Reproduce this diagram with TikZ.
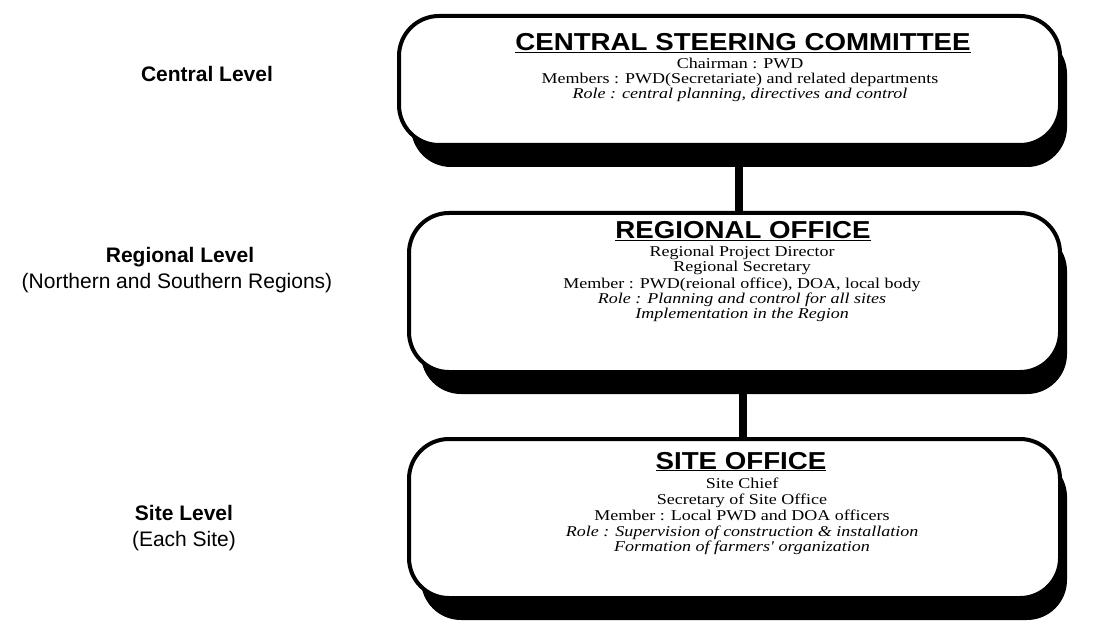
\documentclass[tikz,border=0pt]{standalone}
\usepackage{fontspec}
\setmainfont{Liberation Serif}
\newfontfamily\bodyfont{Liberation Serif}[FakeStretch=1.2]
\newfontfamily\hdrfont{Liberation Sans}[FakeStretch=1.13]
\newfontfamily\lblfont{Liberation Sans}
\usetikzlibrary{backgrounds}
\begin{document}
\begin{tikzpicture}[x=1pt,y=-1pt,
  box/.style={draw=black, line width=4pt, fill=white, rounded corners=40pt,
    anchor=north west, inner sep=0pt},
  shade/.style={fill=black, rounded corners=40pt},
  conn/.style={draw=black, line width=8pt},
  ttl/.style={font=\hdrfont\bfseries\fontsize{24.5}{24.5}\selectfont, anchor=base, inner sep=0pt},
  txt/.style={font=\bodyfont\fontsize{15}{15}\selectfont, anchor=base, inner sep=0pt},
  itx/.style={txt, font=\bodyfont\itshape\fontsize{15}{15}\selectfont},
  lblb/.style={font=\lblfont\bfseries\fontsize{21}{21}\selectfont, anchor=base, inner sep=0pt},
  lbln/.style={font=\lblfont\fontsize{21}{21}\selectfont, anchor=base, inner sep=0pt}]
\useasboundingbox (0,0) rectangle (1105,628);

% boxes
\node[box, minimum width=661pt, minimum height=129pt] (b1) at (397,14) {};
\node[box, minimum width=651pt, minimum height=159pt] (b2) at (407,211) {};
\node[box, minimum width=651pt, minimum height=159pt] (b3) at (407,437) {};

% shadows and connectors behind the boxes
\begin{scope}[on background layer]
\fill[white] (0,0) rectangle (1105,628);
\fill[shade] ([shift={(14,20)}]b1.north west) rectangle ([shift={(5,20)}]b1.south east);
\fill[shade] ([shift={(14,20)}]b2.north west) rectangle ([shift={(5,20)}]b2.south east);
\fill[shade] ([shift={(14,20)}]b3.north west) rectangle ([shift={(5,20)}]b3.south east);
\end{scope}

% connectors
\coordinate (k1) at (739,0);
\coordinate (k2) at (743,0);
\draw[conn] (b1.south -| k1) -- (b2.north -| k1);
\draw[conn] (b2.south -| k2) -- (b3.north -| k2);

% box 1 text
\node[ttl] (t1) at (743,51) {\underline{CENTRAL STEERING COMMITTEE}};
\node[txt] (t1a) at (740,69) {Chairman : PWD};
\node[txt] (t1b) at (740,84) {Members : PWD(Secretariate) and related departments};
\node[itx] (t1c) at (740,99) {Role : central planning, directives and control};

% box 2 text
\node[ttl] (t2) at (743,239) {\underline{REGIONAL OFFICE}};
\node[txt] (t2a) at (742,257) {Regional Project Director};
\node[txt] (t2b) at (742,272) {Regional Secretary};
\node[txt] (t2c) at (742,288) {Member : PWD(reional office), DOA, local body};
\node[itx] (t2d) at (742,303) {Role : Planning and control for all sites};
\node[itx] (t2e) at (742,318) {Implementation in the Region};

% box 3 text
\node[ttl] (t3) at (741,469) {\underline{SITE OFFICE}};
\node[txt] (t3a) at (742,488) {Site Chief};
\node[txt] (t3b) at (742,504) {Secretary of Site Office};
\node[txt] (t3c) at (742,520) {Member : Local PWD and DOA officers};
\node[itx] (t3d) at (742,536) {Role : Supervision of construction \& installation};
\node[itx] (t3e) at (742,551) {Formation of farmers' organization};

% level labels
\node[lblb] (l1) at (207,82) {Central Level};
\node[lblb] (l2) at (180,263) {Regional Level};
\node[lbln] (l2b) at (177,288) {(Northern and Southern Regions)};
\node[lblb] (l3) at (184,520) {Site Level};
\node[lbln] (l3b) at (184,546) {(Each Site)};
\end{tikzpicture}
\end{document}
